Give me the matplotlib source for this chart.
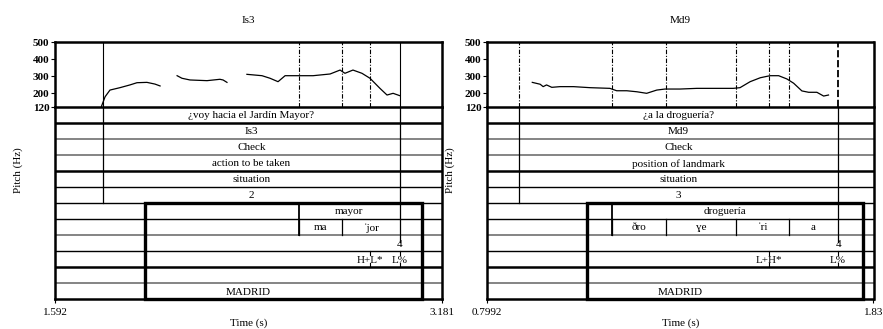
import matplotlib
matplotlib.use("Agg")
import matplotlib.pyplot as plt
from matplotlib.patches import Rectangle

plt.rcParams['font.family'] = ['Liberation Serif', 'DejaVu Serif']
plt.rcParams['font.size'] = 8

# ---- Is3 (left panel) ----
is3_range = (1.592, 3.181)
is3_f0_t = [
    [1.783, 1.798, 1.818, 1.859, 1.900, 1.929, 1.970, 2.003, 2.024],
    [2.094, 2.114, 2.147, 2.217, 2.270, 2.283, 2.299],
    [2.381, 2.443, 2.476, 2.509, 2.538, 2.599, 2.653, 2.723, 2.764, 2.784,
     2.817, 2.854, 2.887, 2.928, 2.957, 2.982, 3.010],
]
is3_f0_hz = [
    [124, 180, 219, 233, 249, 262, 264, 254, 243],
    [303, 288, 278, 274, 282, 278, 264],
    [311, 303, 288, 268, 303, 303, 303, 313, 336, 317,
     336, 317, 288, 229, 190, 200, 186],
]
is3_utt = (1.789, 3.0104)
is3_tiers = ["¿voy hacia el Jardín Mayor?", "Is3", "Check",
             "action to be taken", "situation", "2"]
is3_words = [("mayor", 2.5934, 3.0104)]
is3_syll = [("ma", 2.5934, 2.7719), ("ˈjor", 2.7719, 3.0104)]
is3_break = [("4", 3.0104)]
is3_tones = [("H+L*", 2.887), ("L%", 3.0104)]
is3_marks = [2.5934, 2.7719, 2.887]
is3_box = (1.962, 3.101)

# ---- Md9 (right panel) ----
md9_range = (0.7992, 1.83)
md9_f0_t = [
    [0.920, 0.941, 0.949, 0.958, 0.972, 0.994, 1.030, 1.074, 1.127, 1.145,
     1.172, 1.199, 1.225, 1.252, 1.274, 1.314, 1.359, 1.403, 1.456, 1.474,
     1.501, 1.528, 1.554, 1.577, 1.599, 1.617, 1.639, 1.657, 1.679, 1.697,
     1.710],
]
md9_f0_hz = [
    [264, 253, 239, 249, 235, 239, 239, 233, 229, 215,
     215, 209, 200, 219, 225, 225, 229, 229, 229, 233,
     268, 291, 303, 303, 284, 259, 214, 206, 206, 184,
     190],
]
md9_utt = (0.8846, 1.7358)
md9_tiers = ["¿a la droguería?", "Md9", "Check",
             "position of landmark", "situation", "3"]
md9_words = [("droguería", 1.1328, 1.7358)]
md9_syll = [("ðro", 1.1328, 1.2755), ("ɣe", 1.2755, 1.4636),
            ("ˈri", 1.4636, 1.6037), ("a", 1.6037, 1.7358)]
md9_break = [("4", 1.7358)]
md9_tones = [("L+H*", 1.5517), ("L%", 1.7358)]
md9_marks = [1.1328, 1.2755, 1.4636, 1.5517, 1.6037]
md9_box = (1.0647, 1.8017)

pitch_ticks = [120, 200, 300, 400, 500]
n_rows = 12
gray = '#707070'
# style of tier boundary lines from top to bottom
row_lines = [('k', 1.8), ('k', 1.8), (gray, 1.2), (gray, 1.2), ('k', 1.8),
             ('k', 1.0), ('k', 1.0), ('k', 1.0), (gray, 1.2), ('k', 1.0),
             ('k', 1.8), (gray, 1.2)]

W, H = 883, 329
fig = plt.figure(figsize=(W / 100, H / 100), dpi=100)


def panel(x0_px, title, trange, f0_t, f0_hz, utt, tiers, words, syll,
          brk, tones, marks, box, utt_style):
    x1_px = x0_px + 386.5
    left, width = x0_px / W, (x1_px - x0_px) / W
    ax_p = fig.add_axes([left, 1 - 107 / H, width, 65 / H])
    ax_t = fig.add_axes([left, 1 - 299.3 / H, width, 192.3 / H])

    # pitch part
    for t, hz in zip(f0_t, f0_hz):
        ax_p.plot(t, hz, color='k', lw=0.9)
    ax_p.set_xlim(trange)
    ax_p.set_ylim(120, 500)
    ax_p.set_yticks(pitch_ticks)
    ax_p.set_yticklabels([str(v) for v in pitch_ticks], fontweight='bold')
    ax_p.tick_params(axis='y', length=3, width=0.8, pad=1)
    ax_p.set_xticks([])
    for s in ax_p.spines.values():
        s.set_linewidth(1.8)
    ax_p.set_title(title, fontsize=8, pad=14)
    for m in marks:
        ax_p.axvline(m, color='k', lw=0.8, ls=(0, (4, 1.5, 1, 1.5)))
    for t, st in zip(utt, utt_style):
        ax_p.axvline(t, color='k', **st)

    # tiers part
    ax_t.set_xlim(trange)
    ax_t.set_ylim(n_rows, 0)
    ax_t.set_yticks([])
    ax_t.set_xticks(list(trange))
    ax_t.set_xticklabels(['%g' % v for v in trange])
    ax_t.tick_params(axis='x', length=3, width=0.8, pad=3)
    ax_t.spines['top'].set_visible(False)
    for k in ('left', 'right', 'bottom'):
        ax_t.spines[k].set_linewidth(1.8)
    for i, (c, lw) in enumerate(row_lines):
        ax_t.axhline(i, color=c, lw=lw)

    mid = (utt[0] + utt[1]) / 2
    for i, lab in enumerate(tiers):
        ax_t.text(mid, i + 0.55, lab, ha='center', va='center')
    for t in utt:
        ax_t.plot([t, t], [0, 6], color='k', lw=0.9)
    ax_t.plot([utt[1], utt[1]], [6, 8.4], color='k', lw=0.9)

    for lab, a, b in words:
        ax_t.text((a + b) / 2, 6.55, lab, ha='center', va='center')
        ax_t.plot([a, a], [6, 8], color='k', lw=1.3)
    for lab, a, b in syll:
        ax_t.text((a + b) / 2, 7.55, lab, ha='center', va='center')
        ax_t.plot([a, a], [7, 8], color='k', lw=0.9)
    for lab, t in brk:
        ax_t.text(t, 8.55, lab, ha='center', va='center')
    for lab, t in tones:
        ax_t.text(t, 9.55, lab, ha='center', va='center')
        ax_t.plot([t, t], [9, 9.25], color='k', lw=0.8)
        ax_t.plot([t, t], [9.75, 10], color='k', lw=0.8)
    ax_t.text((trange[0] + trange[1]) / 2, 11.55, "MADRID",
              ha='center', va='center')

    ax_t.add_patch(Rectangle((box[0], 6), box[1] - box[0], 6, fill=False,
                             ec='k', lw=2.4, clip_on=False, zorder=5))
    ax_t.set_xlabel("Time (s)", labelpad=1)
    fig.text((x0_px - 37) / W, 1 - 170 / H, "Pitch (Hz)", rotation=90,
             ha='center', va='center')


panel(55, "Is3", is3_range, is3_f0_t, is3_f0_hz, is3_utt, is3_tiers,
      is3_words, is3_syll, is3_break, is3_tones, is3_marks, is3_box,
      [dict(lw=0.8), dict(lw=0.8)])
panel(487, "Md9", md9_range, md9_f0_t, md9_f0_hz, md9_utt, md9_tiers,
      md9_words, md9_syll, md9_break, md9_tones, md9_marks, md9_box,
      [dict(lw=0.8, ls=(0, (4, 1.5, 1, 1.5))), dict(lw=1.3, ls=(0, (4, 1.5)))])

fig.savefig("out.png", dpi=100)
